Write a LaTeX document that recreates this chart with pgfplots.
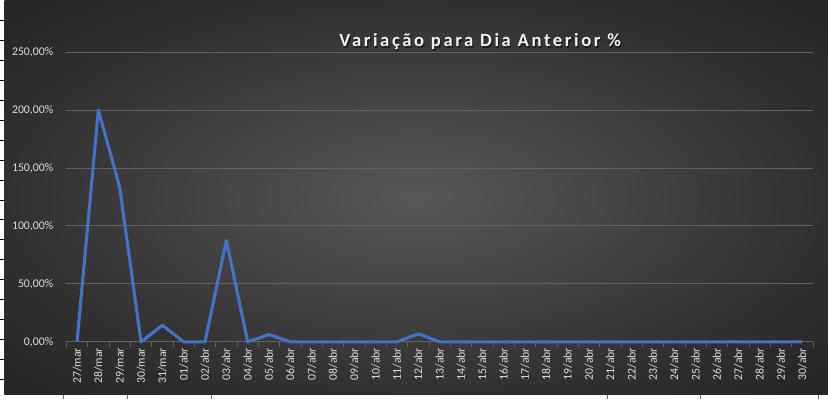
\documentclass[border=0pt]{standalone}
\usepackage{fontspec}
\setmainfont{Carlito}
\usepackage{pgfplots}
\pgfplotsset{compat=1.18}
\usetikzlibrary{calc}
\pgfdeclarelayer{bg}
\pgfsetlayers{bg,main}
\definecolor{bgin}{RGB}{88,88,88}
\definecolor{bgedge}{RGB}{48,48,48}
\definecolor{bgcorner}{RGB}{36,36,36}
\definecolor{gridc}{RGB}{98,98,98}
\definecolor{txt}{RGB}{222,222,222}
\definecolor{serie}{RGB}{68,114,196}
\pgfdeclareradialshading{bgshade}{\pgfpoint{0bp}{0bp}}{color(0bp)=(bgin); color(25bp)=(bgedge); color(36bp)=(bgcorner); color(50bp)=(bgcorner)}
\begin{document}
\begin{tikzpicture}[x=1bp,y=1bp]
\begin{axis}[
  name=ax,
  scale only axis, width=747bp, height=290bp,
  xmin=-0.5, xmax=34.5, ymin=0, ymax=250,
  clip=false,
  axis lines*=left,
  y axis line style={draw=none},
  x axis line style={draw=gridc, line width=0.8bp},
  ytick={0,50,...,250},
  yticklabels={0{,}00\%,50{,}00\%,100{,}00\%,150{,}00\%,200{,}00\%,250{,}00\%},
  ymajorgrids, grid style={draw=gridc, line width=0.8bp},
  major tick length=0pt,
  xtick={0,...,34},
  xticklabels={27/mar,28/mar,29/mar,30/mar,31/mar,01/abr,02/abr,03/abr,04/abr,05/abr,06/abr,07/abr,08/abr,09/abr,10/abr,11/abr,12/abr,13/abr,14/abr,15/abr,16/abr,17/abr,18/abr,19/abr,20/abr,21/abr,22/abr,23/abr,24/abr,25/abr,26/abr,27/abr,28/abr,29/abr,30/abr},
  minor xtick={-0.5,0.5,...,34.5},
  minor tick length=5bp, tick align=outside,
  xtick style={draw=gridc, line width=0.8bp},
  ytick style={draw=none},
  xticklabel shift=6bp,
  yticklabel shift=13bp,
  xticklabel style={rotate=90, anchor=east, inner sep=0pt, text=txt, font=\fontsize{11.8}{12}\selectfont},
  yticklabel style={anchor=east, inner sep=0pt, text=txt, font=\fontsize{11.8}{12}\selectfont},
]
\addplot[serie, line width=3.1bp, line join=round, mark=none] coordinates {
(0,0) (1,200) (2,133.33) (3,0) (4,14.29) (5,0) (6,0) (7,87.5) (8,0) (9,6.25) (10,0)
(11,0) (12,0) (13,0) (14,0) (15,0) (16,6.9) (17,0) (18,0) (19,0) (20,0) (21,0) (22,0)
(23,0) (24,0) (25,0) (26,0) (27,0) (28,0) (29,0) (30,0) (31,0) (32,0) (33,0) (34,0)};
\end{axis}
\begin{pgfonlayer}{bg}
\coordinate (O) at ($(ax.south west)+(-66,-57)$);
\fill[white] (O) rectangle ++(828,399);
\shade[shading=bgshade] ($(O)+(4,4)$) rectangle ($(O)+(828,399)$);
\foreach \yy in {20,40,...,380} \draw[black,line width=0.8bp] ($(O)+(0,399-\yy)$) -- ++(3.5,0);
\foreach \xx in {63,127,211,607,700,818} \draw[black!60,line width=0.8bp] ($(O)+(\xx,0)$) -- ++(0,4);
\end{pgfonlayer}
\node[text=black,opacity=0.5,font=\fontsize{18.7}{20}\selectfont\bfseries\addfontfeature{LetterSpace=14}] at ($(O)+(481.2,355.8)$) {Variação para Dia Anterior \%};
\node[text=white!95!black,font=\fontsize{18.7}{20}\selectfont\bfseries\addfontfeature{LetterSpace=14}] at ($(O)+(480,357)$) {Variação para Dia Anterior \%};
\end{tikzpicture}
\end{document}
